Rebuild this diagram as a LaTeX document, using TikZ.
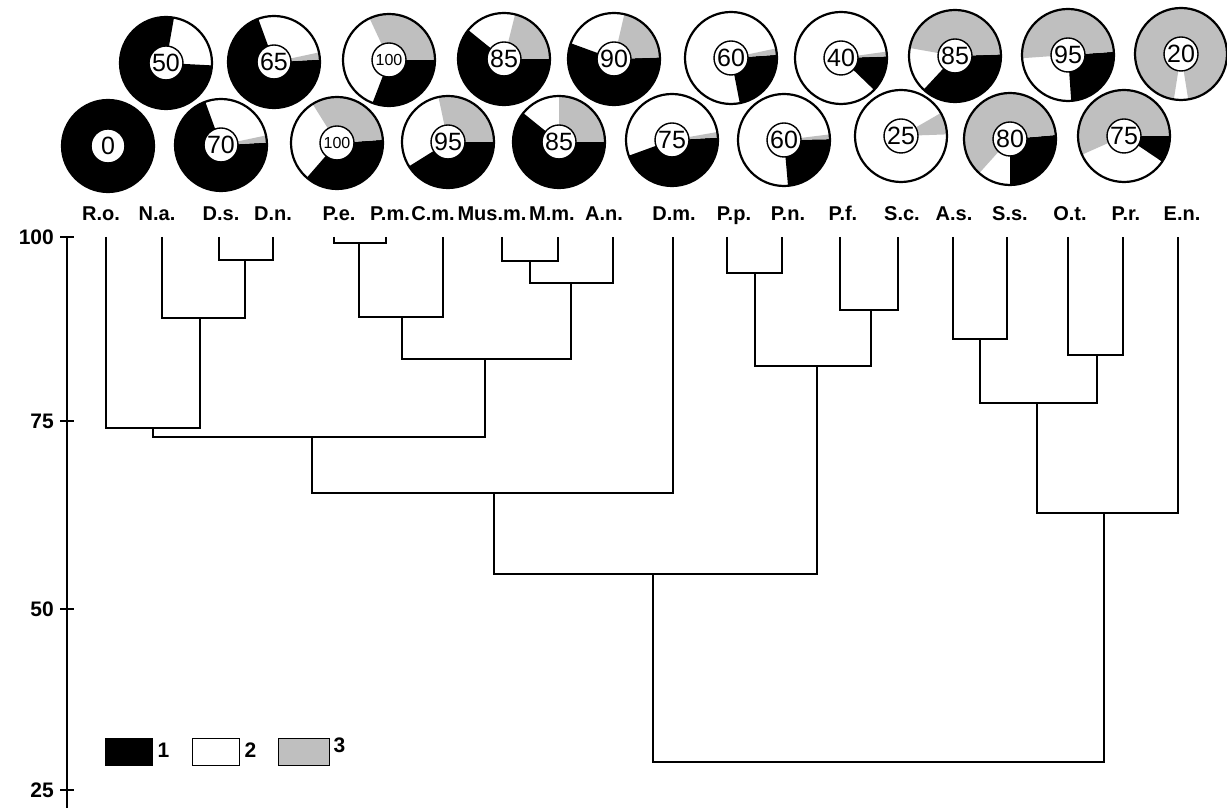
\documentclass[tikz,border=0pt]{standalone}
\usepackage{fontspec}
\setmainfont{Liberation Sans}
\usetikzlibrary{positioning}
\begin{document}
\begin{tikzpicture}[x=1pt,y=1pt,
	branch/.style={line width=1.3pt},
	leaflabel/.style={font=\bfseries\fontsize{20}{20}\selectfont,inner sep=0pt,anchor=base},
	keylabel/.style={font=\bfseries\fontsize{21}{21}\selectfont,inner sep=0pt},
	ticklabel/.style={font=\bfseries\fontsize{21}{21}\selectfont,anchor=east,inner sep=0pt},
	ring/.style={line width=2.2pt},
	val/.style={circle,draw,fill=white,line width=1.4pt,minimum size=34pt,inner sep=0pt,font=\fontsize{25}{25}\selectfont},
	valsmall/.style={val,font=\fontsize{16}{16}\selectfont},
	shade3/.style={fill=black!25},
	keybox/.style={draw,line width=1pt,minimum width=47pt,minimum height=27pt,inner sep=0pt}]
	\fill[white] (0,0) rectangle (1227,808);
	\useasboundingbox (0,0) rectangle (1227,808);
	% axis
	\draw[branch] (67,571) -- (67,0);
	\draw[branch] (60,571) -- (74,571);
	\draw[branch] (60,387) -- (74,387);
	\draw[branch] (60,199) -- (74,199);
	\draw[branch] (60,18) -- (74,18);
	\node[ticklabel] (t100) at (54,571) {100};
	\node[ticklabel] (t75) at (54,387) {75};
	\node[ticklabel] (t50) at (54,199) {50};
	\node[ticklabel] (t25) at (54,18) {25};
	% species
	\node[leaflabel] (lro) at (101,587) {R.o.};
	\node[leaflabel] (lna) at (157,587) {N.a.};
	\node[leaflabel] (lds) at (221,587) {D.s.};
	\node[leaflabel] (ldn) at (273,587) {D.n.};
	\node[leaflabel] (lpe) at (339,587) {P.e.};
	\node[leaflabel] (lpm) at (390,587) {P.m.};
	\node[leaflabel] (lcm) at (433,587) {C.m.};
	\node[leaflabel] (lmus) at (492,587) {Mus.m.};
	\node[leaflabel] (lmm) at (552,587) {M.m.};
	\node[leaflabel] (lan) at (604,587) {A.n.};
	\node[leaflabel] (ldm) at (674,587) {D.m.};
	\node[leaflabel] (lpp) at (734,587) {P.p.};
	\node[leaflabel] (lpn) at (788,587) {P.n.};
	\node[leaflabel] (lpf) at (843,587) {P.f.};
	\node[leaflabel] (lsc) at (902,587) {S.c.};
	\node[leaflabel] (las) at (954,587) {A.s.};
	\node[leaflabel] (lss) at (1010,587) {S.s.};
	\node[leaflabel] (lot) at (1070,587) {O.t.};
	\node[leaflabel] (lpr) at (1126,587) {P.r.};
	\node[leaflabel] (len) at (1182,587) {E.n.};
	% leaf tops
	\coordinate (ro) at (106,571);
	\coordinate (na) at (162,571);
	\coordinate (ds) at (219,571);
	\coordinate (dn) at (273,571);
	\coordinate (pe) at (334,571);
	\coordinate (pm) at (386,571);
	\coordinate (cm) at (443,571);
	\coordinate (mus) at (502,571);
	\coordinate (mm) at (558,571);
	\coordinate (an) at (613,571);
	\coordinate (dm) at (673,571);
	\coordinate (pp) at (727,571);
	\coordinate (pn) at (782,571);
	\coordinate (pf) at (840,571);
	\coordinate (sc) at (898,571);
	\coordinate (as) at (953,571);
	\coordinate (ss) at (1007,571);
	\coordinate (ot) at (1068,571);
	\coordinate (pr) at (1123,571);
	\coordinate (en) at (1178,571);
	% joins
	\coordinate (dsdn) at (245,548);
	\coordinate (nadn) at (200,490);
	\coordinate (rodn) at (153,380);
	\coordinate (pepm) at (359,565);
	\coordinate (pecm) at (402,491);
	\coordinate (musmm) at (530,547);
	\coordinate (musan) at (571,525);
	\coordinate (pean) at (485,449);
	\coordinate (roan) at (312,371);
	\coordinate (rodm) at (494,315);
	\coordinate (pppn) at (755,535);
	\coordinate (pfsc) at (871,498);
	\coordinate (ppsc) at (817,442);
	\coordinate (rosc) at (653,234);
	\coordinate (asss) at (980,469);
	\coordinate (otpr) at (1097,453);
	\coordinate (aspr) at (1037,405);
	\coordinate (asen) at (1104,295);
	\coordinate (root) at (880,46);
	\draw[branch] (ds) |- (dsdn) -| (dn);
	\draw[branch] (na) |- (nadn) -| (dsdn);
	\draw[branch] (ro) |- (rodn) -| (nadn);
	\draw[branch] (pe) |- (pepm) -| (pm);
	\draw[branch] (pepm) |- (pecm) -| (cm);
	\draw[branch] (mus) |- (musmm) -| (mm);
	\draw[branch] (musmm) |- (musan) -| (an);
	\draw[branch] (pecm) |- (pean) -| (musan);
	\draw[branch] (rodn) |- (roan) -| (pean);
	\draw[branch] (roan) |- (rodm) -| (dm);
	\draw[branch] (pp) |- (pppn) -| (pn);
	\draw[branch] (pf) |- (pfsc) -| (sc);
	\draw[branch] (pppn) |- (ppsc) -| (pfsc);
	\draw[branch] (rodm) |- (rosc) -| (ppsc);
	\draw[branch] (as) |- (asss) -| (ss);
	\draw[branch] (ot) |- (otpr) -| (pr);
	\draw[branch] (asss) |- (aspr) -| (otpr);
	\draw[branch] (aspr) |- (asen) -| (en);
	\draw[branch] (rosc) |- (root) -| (asen);
	% pies, lower row
	\fill[black] (108,662) circle (46);
	\draw[ring] (108,662) circle (46);
	\node[val] (vro) at (108,662) {0};
	\fill[black] (221,663) -- +(110:46) arc[start angle=110,end angle=363,radius=46] -- cycle;
	\fill[shade3] (221,663) -- +(3:46) arc[start angle=3,end angle=12,radius=46] -- cycle;
	\draw[ring] (221,663) circle (46);
	\node[val] (vds) at (221,663) {70};
	\fill[black] (337,665) -- +(229:46) arc[start angle=229,end angle=364,radius=46] -- cycle;
	\fill[shade3] (337,665) -- +(4:46) arc[start angle=4,end angle=122,radius=46] -- cycle;
	\draw[ring] (337,665) circle (46);
	\node[valsmall] (vpe) at (337,665) {100};
	\fill[black] (448,666) -- +(212:46) arc[start angle=212,end angle=360,radius=46] -- cycle;
	\fill[shade3] (448,666) -- +(0:46) arc[start angle=0,end angle=102,radius=46] -- cycle;
	\draw[ring] (448,666) circle (46);
	\node[val] (vcm) at (448,666) {95};
	\fill[black] (559,666) -- +(141:46) arc[start angle=141,end angle=360,radius=46] -- cycle;
	\fill[shade3] (559,666) -- +(0:46) arc[start angle=0,end angle=90,radius=46] -- cycle;
	\draw[ring] (559,666) circle (46);
	\node[val] (vmm) at (559,666) {85};
	\fill[black] (672,668) -- +(200:46) arc[start angle=200,end angle=363,radius=46] -- cycle;
	\fill[shade3] (672,668) -- +(3:46) arc[start angle=3,end angle=10,radius=46] -- cycle;
	\draw[ring] (672,668) circle (46);
	\node[val] (vdm) at (672,668) {75};
	\fill[black] (784,668) -- +(275:46) arc[start angle=275,end angle=361,radius=46] -- cycle;
	\fill[shade3] (784,668) -- +(1:46) arc[start angle=1,end angle=7,radius=46] -- cycle;
	\draw[ring] (784,668) circle (46);
	\node[val] (vpn) at (784,668) {60};
	\fill[shade3] (901,672) -- +(2:46) arc[start angle=2,end angle=30,radius=46] -- cycle;
	\draw[ring] (901,672) circle (46);
	\node[val] (vsc) at (901,672) {25};
	\fill[black] (1010,669) -- +(270:46) arc[start angle=270,end angle=365,radius=46] -- cycle;
	\fill[shade3] (1010,669) -- +(5:46) arc[start angle=5,end angle=228,radius=46] -- cycle;
	\draw[ring] (1010,669) circle (46);
	\node[val] (vss) at (1010,669) {80};
	\fill[black] (1124,672) -- +(326:46) arc[start angle=326,end angle=360,radius=46] -- cycle;
	\fill[shade3] (1124,672) -- +(0:46) arc[start angle=0,end angle=204,radius=46] -- cycle;
	\draw[ring] (1124,672) circle (46);
	\node[val] (vpr) at (1124,672) {75};
	% pies, upper row
	\fill[black] (166,745) -- +(80:46) arc[start angle=80,end angle=357,radius=46] -- cycle;
	\draw[ring] (166,745) circle (46);
	\node[val] (vna) at (166,745) {50};
	\fill[black] (274,746) -- +(110:46) arc[start angle=110,end angle=363,radius=46] -- cycle;
	\fill[shade3] (274,746) -- +(3:46) arc[start angle=3,end angle=12,radius=46] -- cycle;
	\draw[ring] (274,746) circle (46);
	\node[val] (vdn) at (274,746) {65};
	\fill[black] (389,748) -- +(249:46) arc[start angle=249,end angle=360,radius=46] -- cycle;
	\fill[shade3] (389,748) -- +(0:46) arc[start angle=0,end angle=115,radius=46] -- cycle;
	\draw[ring] (389,748) circle (46);
	\node[valsmall] (vpm) at (389,748) {100};
	\fill[black] (504,749) -- +(141:46) arc[start angle=141,end angle=360,radius=46] -- cycle;
	\fill[shade3] (504,749) -- +(0:46) arc[start angle=0,end angle=76,radius=46] -- cycle;
	\draw[ring] (504,749) circle (46);
	\node[val] (vmus) at (504,749) {85};
	\fill[black] (614,749) -- +(160:46) arc[start angle=160,end angle=362,radius=46] -- cycle;
	\fill[shade3] (614,749) -- +(2:46) arc[start angle=2,end angle=77,radius=46] -- cycle;
	\draw[ring] (614,749) circle (46);
	\node[val] (van) at (614,749) {90};
	\fill[black] (731,750) -- +(281:46) arc[start angle=281,end angle=364,radius=46] -- cycle;
	\fill[shade3] (731,750) -- +(4:46) arc[start angle=4,end angle=12,radius=46] -- cycle;
	\draw[ring] (731,750) circle (46);
	\node[val] (vpp) at (731,750) {60};
	\fill[black] (841,750) -- +(316:46) arc[start angle=316,end angle=362,radius=46] -- cycle;
	\fill[shade3] (841,750) -- +(2:46) arc[start angle=2,end angle=8,radius=46] -- cycle;
	\draw[ring] (841,750) circle (46);
	\node[val] (vpf) at (841,750) {40};
	\fill[black] (955,752) -- +(227:46) arc[start angle=227,end angle=362,radius=46] -- cycle;
	\fill[shade3] (955,752) -- +(2:46) arc[start angle=2,end angle=170,radius=46] -- cycle;
	\draw[ring] (955,752) circle (46);
	\node[val] (vas) at (955,752) {85};
	\fill[black] (1068,753) -- +(274:46) arc[start angle=274,end angle=364,radius=46] -- cycle;
	\fill[shade3] (1068,753) -- +(4:46) arc[start angle=4,end angle=184,radius=46] -- cycle;
	\draw[ring] (1068,753) circle (46);
	\node[val] (vot) at (1068,753) {95};
	\fill[shade3] (1181,754) -- +(279:46) arc[start angle=279,end angle=621,radius=46] -- cycle;
	\draw[ring] (1181,754) circle (46);
	\node[val] (ven) at (1181,754) {20};
	% key
	\node[keybox,fill=black] (k1) at (128.5,55.5) {};
	\node[keybox,fill=white] (k2) at (215.5,55.5) {};
	\node[keybox,shade3,minimum width=51pt] (k3) at (303.5,55.5) {};
	\node[keylabel,right=5pt of k1,yshift=2pt] (n1) {1};
	\node[keylabel,right=5pt of k2,yshift=2pt] (n2) {2};
	\node[keylabel,anchor=north west] (n3) at ([xshift=4pt,yshift=1pt]k3.north east) {3};
\end{tikzpicture}
\end{document}
